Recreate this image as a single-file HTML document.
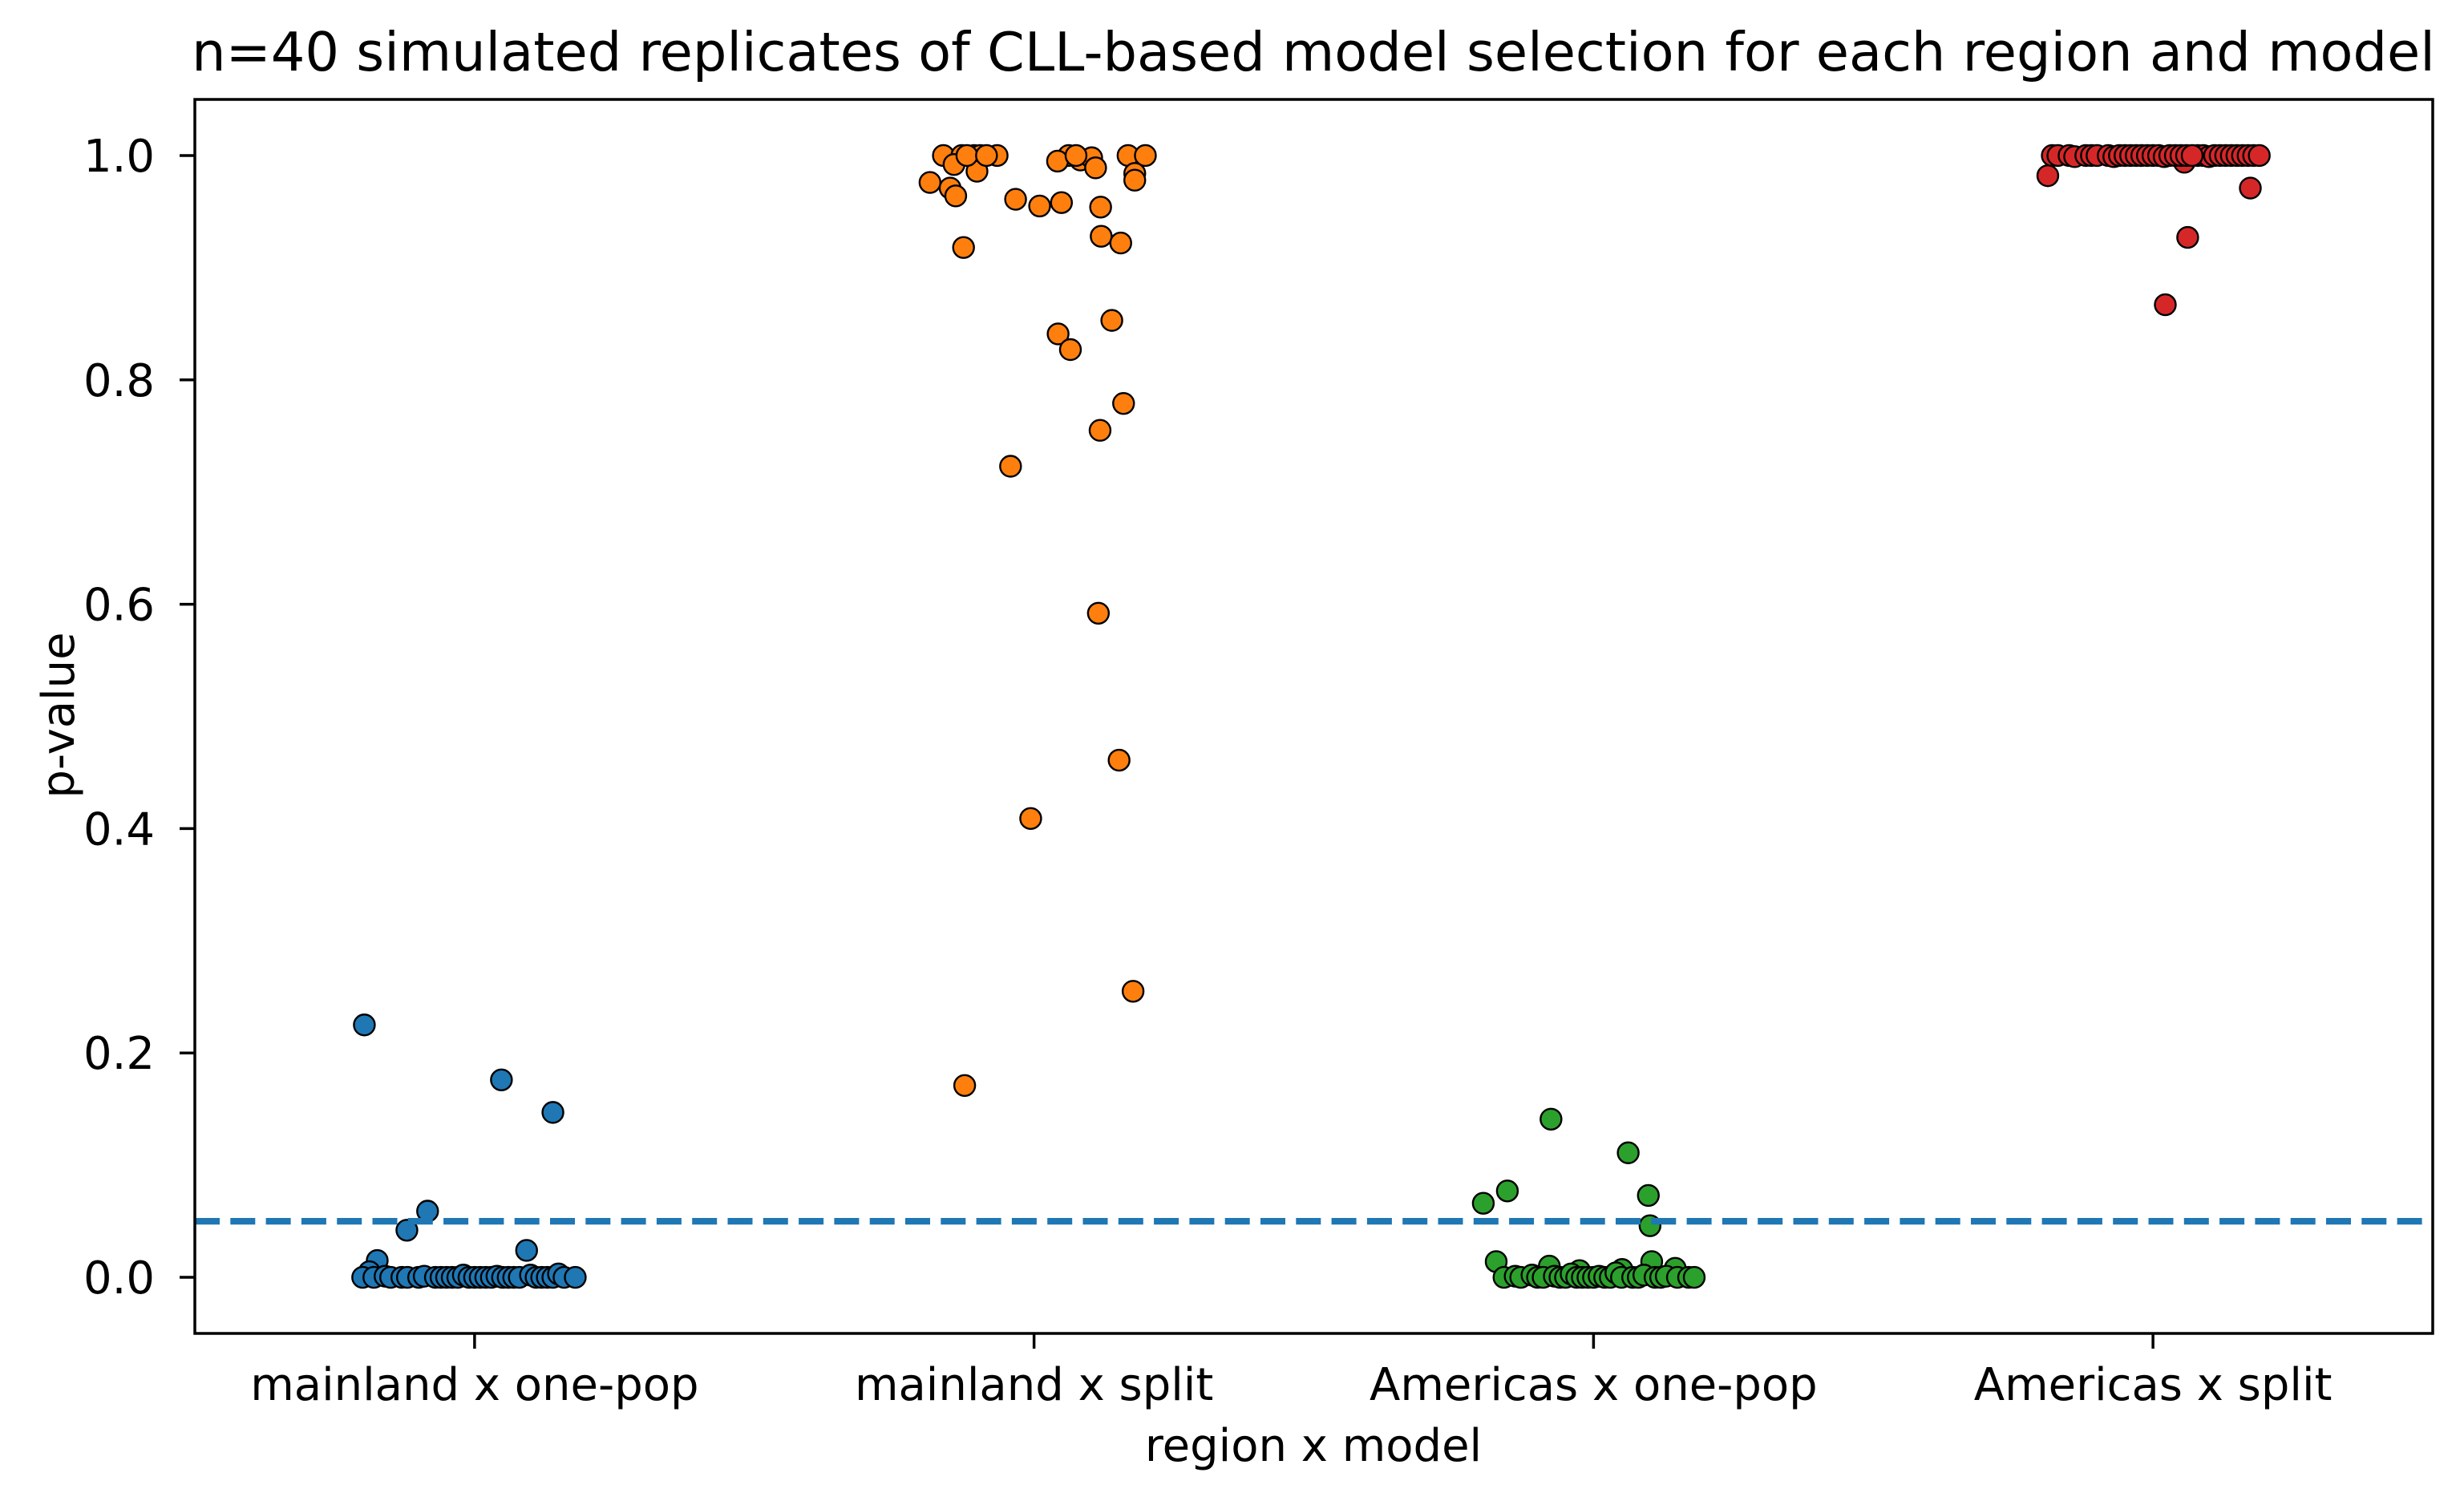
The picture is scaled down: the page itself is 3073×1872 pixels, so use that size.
<!DOCTYPE html>
<html><head><meta charset="utf-8"><style>
html,body{margin:0;padding:0;background:#fff;}
svg{display:block;font-family:"DejaVu Sans","Liberation Sans",sans-serif;}
</style></head><body>
<svg id="chart" width="3073" height="1872" viewBox="0 0 3073 1872" xmlns="http://www.w3.org/2000/svg">
<rect width="3073" height="1872" fill="#fff"/>
<text x="1638" y="88" font-size="67" text-anchor="middle">n=40 simulated replicates of CLL-based model selection for each region and model</text>
<text x="0" y="0" font-size="56" text-anchor="middle" transform="translate(92,892) rotate(-90)">p-value</text>
<text x="1638" y="1822" font-size="56" text-anchor="middle">region x model</text>
<g id="ticks"></g>
<g id="marks"></g>
<line id="thr" stroke="#1f77b4" stroke-width="8.3" stroke-dasharray="31 13.3"/>
<rect x="243" y="124" width="2791" height="1539" fill="none" stroke="#000" stroke-width="3.5"/>
</svg>
<script>
const categories = ["mainland x one-pop","mainland x split","Americas x one-pop","Americas x split"];
const colors = ["#1f77b4","#ff7f0e","#2ca02c","#d62728"];
const yTicks = [0.0,0.2,0.4,0.6,0.8,1.0];
const yTickLabels = ["0.0","0.2","0.4","0.6","0.8","1.0"];
const threshold = 0.05;

const blueJitter = [-0.197,0.048,0.14,-0.084,-0.121,0.093,-0.174,-0.188,
 -0.2,-0.18,-0.16,-0.15,-0.13,-0.12,-0.1,-0.09,-0.07,-0.06,-0.05,-0.04,-0.03,-0.02,-0.01,0.0,0.01,0.02,0.03,0.04,0.05,0.06,0.07,0.08,0.1,0.11,0.12,0.13,0.14,0.15,0.16,0.18];
const blueValues = [0.225,0.176,0.147,0.059,0.042,0.024,0.015,0.005,
 0,0,0.001,0,0,0,0,0.001,0,0,0,0,0,0.002,0,0,0,0,0,0.001,0,0,0,0,0.002,0,0,0,0,0.003,0,0];

const orangeJitter = [-0.162,-0.129,-0.107,-0.096,-0.143,-0.102,-0.066,-0.186,-0.15,-0.14,-0.033,0.01,0.049,-0.126,0.062,0.042,0.083,0.103,0.11,0.168,0.199,0.18,0.18,0.119,0.12,0.155,0.139,0.043,0.065,0.16,0.118,
 -0.042,0.115,0.152,-0.006,0.177,-0.124,-0.12,-0.085,0.075];
const orangeValues = [1.0,1.0,1.0,1.0,0.992,0.986,1.0,0.976,0.971,0.964,0.961,0.955,0.958,0.918,1.0,0.995,0.996,0.998,0.989,1.0,1.0,0.984,0.978,0.954,0.928,0.922,0.853,0.841,0.827,0.779,0.755,
 0.723,0.592,0.461,0.409,0.255,0.171,1.0,1.0,1.0];

const greenJitter = [-0.076,0.062,-0.154,-0.197,0.098,0.101,-0.174,0.104,-0.079,0.146,0.051,-0.025,
 -0.16,-0.14,-0.13,-0.11,-0.1,-0.09,-0.07,-0.06,-0.05,-0.04,-0.03,-0.02,-0.01,0.0,0.01,0.02,0.03,0.04,0.05,0.07,0.08,0.09,0.11,0.12,0.13,0.15,0.17,0.18];
const greenValues = [0.141,0.111,0.077,0.066,0.073,0.046,0.014,0.014,0.01,0.008,0.007,0.006,
 0,0.001,0,0.002,0,0,0.001,0,0,0.003,0,0,0,0,0.001,0,0,0.004,0,0,0,0.002,0,0,0.001,0,0,0];

const redJitter = [-0.188,0.022,0.062,0.174,0.056,
 -0.18,-0.17,-0.15,-0.14,-0.12,-0.11,-0.1,-0.08,-0.07,-0.06,-0.05,-0.04,-0.03,-0.02,-0.01,0,0.01,0.02,0.03,0.04,0.05,0.06,0.08,0.09,0.1,0.11,0.12,0.13,0.14,0.15,0.16,0.17,0.18,0.19,0.07];
const redValues = [0.982,0.867,0.927,0.971,0.994,
 1,1,1,0.999,1,1,1,1,0.999,1,1,1,1,1,1,1,1,0.999,1,1,1,1,1,1,0.999,1,1,1,1,1,1,1,1,1,1];

const seriesJitter = [blueJitter, orangeJitter, greenJitter, redJitter];
const seriesValues = [blueValues, orangeValues, greenValues, redValues];

const L=243,R=3034,T=124,B=1663;
function xScale(v){ return L + (v + 0.5) / 4 * (R - L); }
function yScale(v){ return B - (v + 0.05) / 1.1 * (B - T); }
const NS="http://www.w3.org/2000/svg";
const tg=document.getElementById('ticks');
function mk(tag, attrs, parent){ const e=document.createElementNS(NS,tag); for(const k in attrs) e.setAttribute(k,attrs[k]); parent.appendChild(e); return e; }

yTicks.forEach((t,i)=>{
  const y=yScale(t);
  const tk=mk('line',{x1:L-19,x2:L,y1:y,y2:y,stroke:'#000','stroke-width':3.5},tg);
  
  
  const lb=mk('text',{x:L-50,y:y+20,'font-size':56,'text-anchor':'end'},tg);
  lb.textContent=yTickLabels[i];
  
  
});
categories.forEach((c,i)=>{
  const x=xScale(i);
  const tk=mk('line',{x1:x,x2:x,y1:B,y2:B+19,stroke:'#000','stroke-width':3.5},tg);
  
  
  const lb=mk('text',{x:x,y:1746,'font-size':56,'text-anchor':'middle'},tg);
  lb.textContent=c;
  
  
});

const mg=document.getElementById('marks');
seriesValues.forEach((vals,s)=>{
  const g=mk('g',{},mg);
  
  
  vals.forEach((v,j)=>{
    const c=mk('circle',{cx:xScale(s+seriesJitter[s][j]),cy:yScale(v),r:13,fill:colors[s],stroke:'#000','stroke-width':2.4},g);
    
    
  });
});

const thr=document.getElementById('thr');
thr.setAttribute('x1',L); thr.setAttribute('x2',R);
thr.setAttribute('y1',yScale(threshold)); thr.setAttribute('y2',yScale(threshold));
</script>
</body></html>
